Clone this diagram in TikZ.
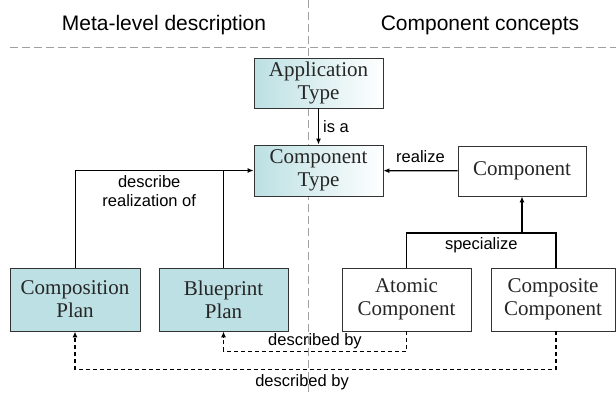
\documentclass[tikz,border=0pt]{standalone}
\usepackage{fontspec}
\setmainfont{Liberation Serif}
\setsansfont{Liberation Sans}
\usepackage{tikz}
\usetikzlibrary{arrows.meta,positioning}
\definecolor{planteal}{HTML}{BCE0E3}
\definecolor{boxline}{HTML}{333333}
\definecolor{divgray}{HTML}{A0A0A0}
\tikzstyle{concept}=[draw=boxline,line width=0.8pt,align=center,inner sep=0pt,
  font=\fontsize{21}{23}\selectfont,text=black!85]
\tikzstyle{typebox}=[concept,left color=planteal,right color=white]
\tikzstyle{planbox}=[concept,fill=planteal]
\tikzstyle{lbl}=[font=\sffamily\fontsize{16.5}{19}\selectfont,align=center,inner sep=2pt]
\tikzstyle{heading}=[font=\sffamily\fontsize{21}{25}\selectfont]
\tikzstyle{link}=[draw,line width=1.2pt,black,>={Latex[length=6pt,width=5pt]}]
\tikzstyle{thinlink}=[link,line width=0.9pt]
\tikzstyle{descby}=[link,dash pattern=on 4pt off 3pt]
\tikzstyle{divider}=[draw,divgray,line width=0.9pt,dash pattern=on 8pt off 4pt]

\begin{document}
\begin{tikzpicture}[x=1pt,y=-1pt]
	\useasboundingbox (0,0) rectangle (616,392);
	
	% two halves
	\path[divider] (10,47) -- (616,47);
	\path[divider] (308,0) -- (308,392);
	\node[heading] (metahead) at (164,25) {Meta-level description};
	\node[heading] (conchead) at (480,25) {Component concepts};
	
	\node[typebox,minimum width=129pt,minimum height=50pt] (apptype) at (318.5,83) {Application\\Type};
	\node[typebox,minimum width=129pt,minimum height=51pt] (comptype) at (318.5,170.5) {Component\\Type};
	\node[concept,minimum width=128pt,minimum height=50pt] (component) at (522,171) {Component};
	
	\node[planbox,minimum width=130pt,minimum height=63pt] (compplan) at (75,299.5) {Composition\\Plan};
	\node[planbox,minimum width=129pt,minimum height=63pt] (blueplan) at (223.5,299.5) {Blueprint\\Plan};
	\node[concept,minimum width=129pt,minimum height=63pt] (atomic) at (406.5,299.5) {Atomic\\Component};
	\node[concept,minimum width=124pt,minimum height=63pt] (composite) at (553,299.5) {Composite\\Component};
	
	\path[link,->] (apptype) edge 
	node [lbl, right, xshift=2pt] {is a} (comptype);
	\path[link,->] (component) edge 
	node [lbl, midway, above, yshift=5pt] {realize} (comptype);
	
	\coordinate (join) at (blueplan.north |- comptype.west);
	\path[thinlink] (compplan.north) |- 
	node [lbl, pos=0.75, below, yshift=-3pt] {describe\\realization of} (join);
	\path[thinlink] (blueplan.north) -- (join);
	\path[link,->] (join) -- (comptype.west);
	
	\coordinate (spec) at (component.south |- 0,233);
	\path[link] (atomic.north) |- 
	node [lbl, pos=0.75, below, yshift=-2pt] {specialize} ([xshift=3pt]composite.north |- spec) 
	-- ([xshift=3pt]composite.north);
	\path[link,->] (spec) -- (component.south);
	
	\path[descby,->] (atomic.south) -- ++(0,20) -| 
	node [lbl, pos=0.25, above] {described by} (blueplan.south);
	\path[descby,->] ([xshift=3pt]composite.south) -- ++(0,38) -| 
	node [lbl, pos=0.264, below, yshift=-3pt] {described by} (compplan.south);

\end{tikzpicture}
\end{document}
